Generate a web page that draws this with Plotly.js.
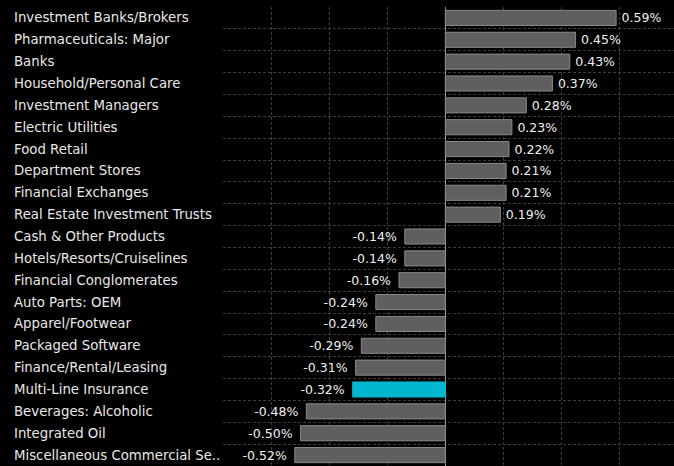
<!DOCTYPE html>
<html>
<head>
<meta charset="utf-8">
<script src="https://cdn.plot.ly/plotly-3.0.1.min.js"></script>
<style>
  html, body { margin: 0; padding: 0; background: #000; }
  #chart { width: 674px; height: 466px; }
</style>
</head>
<body>
<div id="chart"></div>
<script>
// industry groups, % change
const sectors = [
    'Investment Banks/Brokers',
    'Pharmaceuticals: Major',
    'Banks',
    'Household/Personal Care',
    'Investment Managers',
    'Electric Utilities',
    'Food Retail',
    'Department Stores',
    'Financial Exchanges',
    'Real Estate Investment Trusts',
    'Cash & Other Products',
    'Hotels/Resorts/Cruiselines',
    'Financial Conglomerates',
    'Auto Parts: OEM',
    'Apparel/Footwear',
    'Packaged Software',
    'Finance/Rental/Leasing',
    'Multi-Line Insurance',
    'Beverages: Alcoholic',
    'Integrated Oil',
    'Miscellaneous Commercial Se..'
];
const changes = [0.59, 0.45, 0.43, 0.37, 0.28, 0.23, 0.22, 0.21, 0.21, 0.19,
    -0.14, -0.14, -0.16, -0.24, -0.24, -0.29, -0.31, -0.32, -0.48, -0.50, -0.52];
const highlighted = 'Multi-Line Insurance';
const gridTicks = [-0.6, -0.4, -0.2, 0, 0.2, 0.4, 0.6];

const fontFamily = '"DejaVu Sans", sans-serif';

const barColors = sectors.map(s => s === highlighted ? '#00b7cf' : '#5f5f5f');
const lineColors = sectors.map(s => s === highlighted ? '#00b7cf' : '#8a8a8a');

// a bit of extra space between bar end and value label
const valueText = changes.map(v => v < 0 ? v.toFixed(2) + '%\u2009\u2009' : '\u2009' + v.toFixed(2) + '%');

const trace = {
    type: 'bar',
    orientation: 'h',
    x: changes,
    y: sectors,
    text: valueText,
    textposition: 'outside',
    cliponaxis: false,
    constraintext: 'none',
    textfont: { family: fontFamily, size: 12.5, color: '#f0f0f0' },
    marker: { color: barColors, line: { color: lineColors, width: 1 } },
    hoverinfo: 'none'
};

// left-aligned category labels
const labels = sectors.map(s => ({
    xref: 'paper', yref: 'y',
    x: 0, y: s,
    xanchor: 'left', xshift: -211,
    text: s,
    showarrow: false,
    font: { family: fontFamily, size: 13.3, color: '#e8e8e8' }
}));

Plotly.newPlot('chart', [trace], {
    width: 674,
    height: 466,
    margin: { l: 223, r: 0, t: 7, b: 0 },
    paper_bgcolor: '#000',
    plot_bgcolor: '#000',
    showlegend: false,
    bargap: 0.31,
    xaxis: {
        range: [-0.768, 0.79],
        tickvals: gridTicks,
        showticklabels: false,
        showgrid: true,
        gridcolor: '#3c3c3c',
        griddash: '3px,2px',
        zeroline: true,
        zerolinecolor: '#9a9a9a',
        zerolinewidth: 1,
        fixedrange: true
    },
    yaxis: {
        type: 'category',
        autorange: 'reversed',
        tickson: 'boundaries',
        ticks: '',
        showticklabels: false,
        showgrid: true,
        gridcolor: '#3c3c3c',
        griddash: '3px,2px',
        fixedrange: true
    },
    annotations: labels
}, { displayModeBar: false, staticPlot: true });
</script>
</body>
</html>
